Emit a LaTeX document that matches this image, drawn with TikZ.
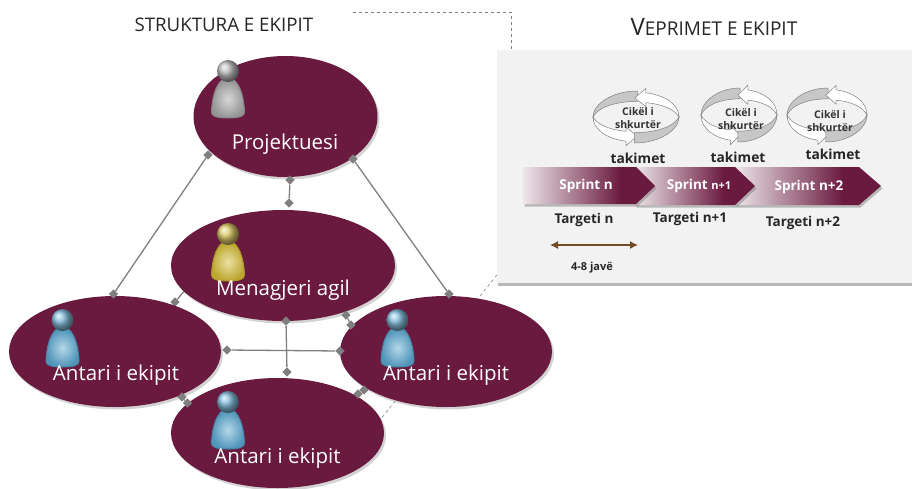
\documentclass[tikz,border=0pt]{standalone}
\usepackage{fontspec}
\setmainfont{Open Sans}
\usetikzlibrary{shapes.geometric,shadows,arrows.meta}
\definecolor{wine}{HTML}{6A1A3F}
\definecolor{paper}{HTML}{F2F2F2}
\definecolor{tiegray}{HTML}{7F7F7F}
\definecolor{fadestart}{HTML}{EDE6EA}
\definecolor{pawngray}{HTML}{A6A6A6}
\definecolor{pawnyellow}{HTML}{D2BA36}
\definecolor{pawnblue}{HTML}{5AA6CE}
\pgfdeclarehorizontalshading{sprintfade}{100bp}{color(0bp)=(fadestart); color(25bp)=(fadestart); color(62bp)=(wine); color(100bp)=(wine)}
\tikzset{
  person/.style={ellipse,fill=wine,inner sep=0,drop shadow={opacity=0.35,shadow xshift=2pt,shadow yshift=-2.5pt}},
  who/.style={text=white,font=\fontsize{20.5}{24}\selectfont},
  tie/.style={diamond,fill=tiegray,inner sep=0,minimum size=9.5pt},
  link/.style={tiegray,line width=1.3pt},
  guide/.style={gray,dashed,line width=0.6pt},
  sprintlabel/.style={text=white,font=\fontsize{13.5}{16}\selectfont\bfseries},
  targetlabel/.style={font=\fontsize{13.5}{16}\selectfont\bfseries,text=black!85},
  meetlabel/.style={font=\fontsize{13.8}{16}\selectfont\bfseries,text=black!85},
  ringlabel/.style={font=\fontsize{10.5}{13}\selectfont\bfseries,align=center,text=black!80},
  pawn/.pic={
    \shadedraw[draw=#1!80!black,line width=1pt,inner color=#1!45!white,outer color=#1!90!black]
      (-6,9) .. controls (-13,15) and (-16,28) .. (-16.5,41) .. controls (-16.5,45) and (-12,47) .. (0,47)
      .. controls (12,47) and (16.5,45) .. (16.5,41) .. controls (16,28) and (13,15) .. (6,9) -- cycle;
    \shade[ball color=#1!75!white] (0,0) circle (11);
  },
  loopring/.pic={
    \foreach \turn in {0,180} {
      \begin{scope}[rotate=\turn]
        \draw[gray,fill=black!22,line width=0.5pt] (0.03,1) .. controls (-0.55,1) and (-1,0.5) .. (-1,0) .. controls (-0.9,0.35) and (-0.5,0.6) .. (0.03,0.6) -- cycle;
        \draw[gray,fill=white,line width=0.5pt] (-1,0) .. controls (-1,-0.5) and (-0.65,-0.85) .. (-0.23,-0.93) -- (-0.23,-1.1) -- (0.03,-0.73) -- (-0.23,-0.4) -- (-0.23,-0.55) .. controls (-0.6,-0.5) and (-0.9,-0.3) .. (-1,0) -- cycle;
      \end{scope}
    }
  }
}
\begin{document}
\begin{tikzpicture}[x=1pt,y=-1pt]
  \useasboundingbox (0,0) rectangle (912,488);
  \coordinate (guidea) at (353,12);
  \coordinate (guideb) at (511,12);
  \coordinate (guidec) at (511,52);
  \coordinate (guided) at (497,275);
  \coordinate (guidee) at (380,420);
  \draw[guide] (guidea) -- (guideb) -- (guidec);
  \draw[guide] (guided) -- (guidee);
  \fill[paper,drop shadow={opacity=0.55,shadow xshift=1pt,shadow yshift=-2.5pt}] (497,50) rectangle (912,283);
  \node[anchor=west,font=\fontsize{18.7}{22}\selectfont,text=black!85] (teamtitle) at (131,25) {STRUKTURA E EKIPIT};
  \node[anchor=west,text=black!85] (worktitle) at (627,27) {\fontsize{24}{28}\selectfont V\fontsize{19}{24}\selectfont EPRIMET E EKIPIT};
  \node[tie] (mla) at (175,302) {};
  \node[tie] (mlb) at (186,289) {};
  \draw[link] (mla) -- (mlb);
  \node[person,minimum width=224pt,minimum height=111pt] (manager) at (283,265.5) {};
  \node[person,minimum width=184pt,minimum height=121pt] (designer) at (285.5,116.5) {};
  \node[person,minimum width=212pt,minimum height=111pt] (left) at (115,351.5) {};
  \node[person,minimum width=212pt,minimum height=111pt] (right) at (446,351.5) {};
  \node[person,minimum width=213pt,minimum height=110pt] (bottom) at (277.5,433) {};
  \foreach \name/\x/\y/\xx/\yy in {pl/208/155/113.5/294, pr/353/159/449/294, pm/290/180/289/203, mr/346/315/351/325, mb/286/321/287/372, lr/227/350/340/351, lb/182/397/187.5/403, rb/364/390/358/394} {
    \node[tie] (\name a) at (\x,\y) {};
    \node[tie] (\name b) at (\xx,\yy) {};
    \draw[link] (\name a) -- (\name b);
  }
  \pic at (228,71) {pawn=pawngray};
  \pic at (228,234) {pawn=pawnyellow};
  \pic at (62.5,320) {pawn=pawnblue};
  \pic at (397.5,320) {pawn=pawnblue};
  \pic at (228,402) {pawn=pawnblue};
  \node[who] (designertext) at (285,144) {Projektuesi};
  \node[who] (managertext) at (283,290) {Menagjeri agil};
  \node[who] (lefttext) at (116,375) {Antari i ekipit};
  \node[who] (righttext) at (446,375) {Antari i ekipit};
  \node[who] (bottomtext) at (277.5,458) {Antari i ekipit};
  \foreach \xa/\xb/\xc/\yb in {735/859/881/205, 635/735/755/205, 523/636/655/204}
    \shade[shading=sprintfade,drop shadow={opacity=0.5,shadow xshift=1.5pt,shadow yshift=-2.5pt}] (\xa,167) -- (\xb,167) -- (\xc,186) -- (\xb,\yb) -- (\xa,\yb) -- cycle;
  \node[sprintlabel] (sprinta) at (586,186) {Sprint n};
  \node[sprintlabel] (sprintb) at (699,186) {Sprint {\fontsize{11}{13}\selectfont n+1}};
  \node[sprintlabel] (sprintc) at (809,187) {Sprint n+2};
  \node[targetlabel] (targeta) at (584,220) {Targeti n};
  \node[targetlabel] (targetb) at (690,219) {Targeti n+1};
  \node[targetlabel] (targetc) at (803,223) {Targeti n+2};
  \node[meetlabel] (meeta) at (638,158) {takimet};
  \node[meetlabel] (meetb) at (738,157) {takimet};
  \node[meetlabel] (meetc) at (833,154) {takimet};
  \foreach \cx/\cy/\rx/\ry in {636/117/43/26, 739/115/38/27, 827/115/40/27} {
    \begin{scope}[shift={(\cx,\cy)},x=\rx pt,y=\ry pt]
      \pic {loopring};
    \end{scope}
  }
  \node[ringlabel] (ringa) at (638,118.5) {Cikël i\\shkurtër};
  \node[ringlabel] (ringb) at (741,119) {Cikël i\\shkurtër};
  \node[ringlabel] (ringc) at (830,121) {Cikël i\\shkurtër};
  \coordinate (spanl) at (550,245);
  \coordinate (spanr) at (638,245);
  \draw[{Latex[length=8pt,width=8pt]}-{Latex[length=8pt,width=8pt]},draw=brown!60!black,line width=1.2pt] (spanl) -- (spanr);
  \node[font=\fontsize{11}{13}\selectfont\bfseries,text=black!85] (span) at (592,268) {4-8 javë};
\end{tikzpicture}
\end{document}
